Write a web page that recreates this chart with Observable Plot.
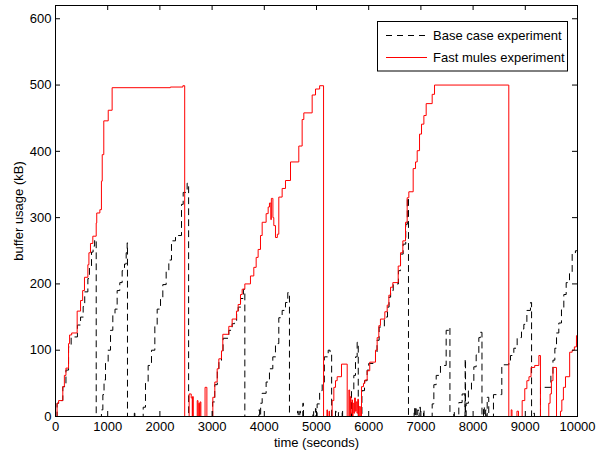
<!DOCTYPE html>
<html><head><meta charset="utf-8">
<script src="https://cdn.jsdelivr.net/npm/d3@7"></script>
<script src="https://cdn.jsdelivr.net/npm/@observablehq/plot@0.6"></script>
<style>body{margin:0;background:#fff;} svg{font-family:"Liberation Sans",Arial,Helvetica,sans-serif;}</style>
</head><body><div id="chart"></div>
<script>
const xTicks = [0,1000,2000,3000,4000,5000,6000,7000,8000,9000,10000];
const yTicks = [0,100,200,300,400,500,600];
const seriesNames = ["Base case experiment","Fast mules experiment"];

// Base case experiment (time s, buffer kB)
const baseT = [0,30,60,140,200,250,300,420,480,530,560,620,650,690,720,750,780,
  880,907,930,958,1009,1054,1098,1140,1181,1232,1277,1322,1354,1373,1379,1510,1520,
  1673,1680,1724,1775,1839,1903,1948,2012,2056,2120,2171,2222,2299,2414,2446,2522,2550,
  3000,3010,3050,3100,3130,3180,3210,3320,3384,3430,3470,3500,3545,3600,3627,
  3895,3910,3930,3959,4035,4099,4163,4214,4278,4342,4406,4450,4482,
  4636,4650,4680,4693,4738,4750,4930,4945,4980,4990,5012,5060,5109,5150,5224,5260,5290,
  5364,5375,5420,5428,5492,5500,5640,5671,5715,5747,5779,5800,
  5860,5870,5920,5970,6000,6130,6160,6200,6300,6360,6390,6420,6470,6570,6610,6660,6710,6740,6762,
  6870,6880,6900,6910,6940,6950,6980,6990,7050,7060,
  7210,7216,7248,7293,7375,7484,7535,7556,
  7631,7640,7726,7790,7845,7848,7855,7867,7910,7969,8014,8059,8110,8140,8170,
  8200,8215,8240,8250,8270,8300,8390,8540,8550,8650,8684,8716,8780,8844,8927,8972,9030,9099,9120,
  9163,9175,9260,9291,9490,9530,9566,9598,9642,9693,9738,9783,9847,9898,9960,10000];
const baseV = [0,20,24,45,70,105,120,138,150,166,188,208,224,248,257,267,0,
  10,33,55,82,100,130,155,162,190,202,220,230,247,262,0,5,0,
  0,14,50,77,100,139,162,179,199,220,236,265,273,320,338,352,0,
  0,22,48,68,83,95,118,130,140,145,155,165,178,192,0,
  10,0,20,35,52,72,90,110,149,160,172,187,0,
  8,0,8,0,20,0,8,0,12,0,19,39,52,90,100,95,0,
  8,0,6,0,10,0,0,39,62,90,112,0,
  0,39,54,70,80,95,115,135,150,165,180,190,200,220,245,260,290,330,0,
  12,0,15,0,10,0,14,0,10,0,
  0,19,48,62,77,130,134,0,
  8,0,21,34,0,87,0,20,40,54,75,93,119,127,0,
  15,0,10,0,29,0,33,33,78,78,82,92,103,119,132,139,160,172,0,
  5,0,0,44,64,85,103,126,141,161,184,202,217,245,250,250];

// Fast mules experiment (time s, buffer kB)
const fastT = [0,30,60,140,170,200,250,270,310,415,480,520,555,620,640,670,715,780,790,850,880,895,925,1010,1085,2200,2440,2475,
  2560,2600,2620,2625,2640,2715,2730,2745,2760,2770,2785,2865,2900,
  3001,3014,3052,3097,3129,3180,3205,3320,3384,3467,3499,3544,3576,3627,3735,3799,3844,3882,3927,3959,4035,4074,4099,4125,4135,4150,4165,4182,4214,4250,4278,4342,4406,4502,4661,4725,4757,4917,4981,5060,5135,
  5200,5210,5240,5250,5300,5332,5364,5396,5479,5588,
  5620,5635,5650,5660,5680,5690,5700,5715,5730,5745,5760,5775,5790,5805,5820,5840,
  5862,5900,5926,5971,6020,6130,6162,6194,6225,6309,6354,6386,6418,6462,6565,6609,6654,6705,6737,6769,6852,6897,6929,6974,7012,7057,7101,7216,7261,8680,
  8684,8730,8745,8840,8870,8940,8990,9030,9070,9110,9180,9260,9290,
  9450,9475,9500,9530,9598,9674,9700,9730,9770,9850,9898,9940,9980,10000];
const fastV = [0,20,24,45,62,73,110,123,126,159,175,190,210,229,247,261,272,292,307,312,355,395,446,462,496,497,499,0,
  34,28,0,30,0,24,0,20,0,22,0,44,0,
  0,29,52,72,87,99,124,136,147,159,169,184,192,200,212,225,240,252,273,293,306,316,322,297,329,329,300,288,270,275,331,344,356,384,408,448,458,485,494,499,0,
  10,0,8,0,24,44,54,60,79,0,
  40,0,30,5,25,0,20,5,28,8,22,5,26,0,15,0,
  45,50,55,69,82,100,119,137,147,158,168,183,195,202,227,247,265,293,330,339,374,384,401,426,441,454,472,486,500,500,
  0,10,0,8,0,24,42,54,60,74,77,92,0,
  20,34,54,74,0,8,25,44,60,97,100,105,122,122];

const base = baseT.map((t, i) => ({t, v: baseV[i]}));
const fast = fastT.map((t, i) => ({t, v: fastV[i]}));

const W = 597, H = 450, mL = 55, mR = 20, mT = 5, mB = 34;
const fw = W - mL - mR, fh = H - mT - mB;
const font = '"Liberation Sans",Arial,Helvetica,sans-serif';

const plot = Plot.plot({
  width: W, height: H,
  marginLeft: mL, marginRight: mR, marginTop: mT, marginBottom: mB,
  style: {fontFamily: font, fontSize: "13px", color: "black", background: "white", overflow: "visible"},
  x: {domain: [0, 10000]},
  y: {domain: [0, 620]},
  marks: [
    Plot.line(base, {x: "t", y: "v", curve: "step-after", stroke: "black", strokeWidth: 1, strokeDasharray: "6,5"}),
    Plot.line(fast, {x: "t", y: "v", curve: "step-after", stroke: "#ff0000", strokeWidth: 1}),
    Plot.frame({stroke: "black", strokeWidth: 1}),
    Plot.tickX(xTicks, {x: d => d, insetTop: fh - 5, stroke: "black"}),
    Plot.tickX(xTicks, {x: d => d, insetBottom: fh - 5, stroke: "black"}),
    Plot.tickY(yTicks, {y: d => d, insetRight: fw - 5, stroke: "black"}),
    Plot.tickY(yTicks, {y: d => d, insetLeft: fw - 5, stroke: "black"}),
    Plot.axisX({ticks: xTicks, tickSize: 0, tickPadding: 5, tickFormat: d => String(d), label: "time (seconds)", labelAnchor: "center", labelOffset: 30, labelArrow: "none"}),
    Plot.axisY({ticks: yTicks, tickSize: 0, tickPadding: 4, tickFormat: d => String(d), label: "buffer usage (kB)", labelAnchor: "center", labelOffset: 42, labelArrow: "none"})
  ]
});

// Legend box inside the plot (top-right)
const svg = d3.select(plot);
const lg = svg.append("g").attr("font-family", font).attr("font-size", 13).attr("text-anchor", "start");
const bx = mL + fw - 9.5, by = 21.5;
lg.append("rect").attr("x", 377.5).attr("y", by).attr("width", bx - 377.5).attr("height", 49.5)
  .attr("fill", "white").attr("stroke", "black").attr("stroke-width", 1);
const rows = [{y: 35, stroke: "black", dash: "6,5"}, {y: 57, stroke: "#ff0000", dash: null}];
rows.forEach((r, i) => {
  lg.append("line").attr("x1", 386).attr("x2", 427).attr("y1", r.y + 0.5).attr("y2", r.y + 0.5)
    .attr("stroke", r.stroke).attr("stroke-width", 1).attr("stroke-dasharray", r.dash);
  lg.append("text").attr("x", 433).attr("y", r.y).attr("dy", "0.35em").attr("text-anchor", "start").attr("fill", "black").text(seriesNames[i]);
});

document.getElementById("chart").appendChild(plot);
</script>
</body></html>
